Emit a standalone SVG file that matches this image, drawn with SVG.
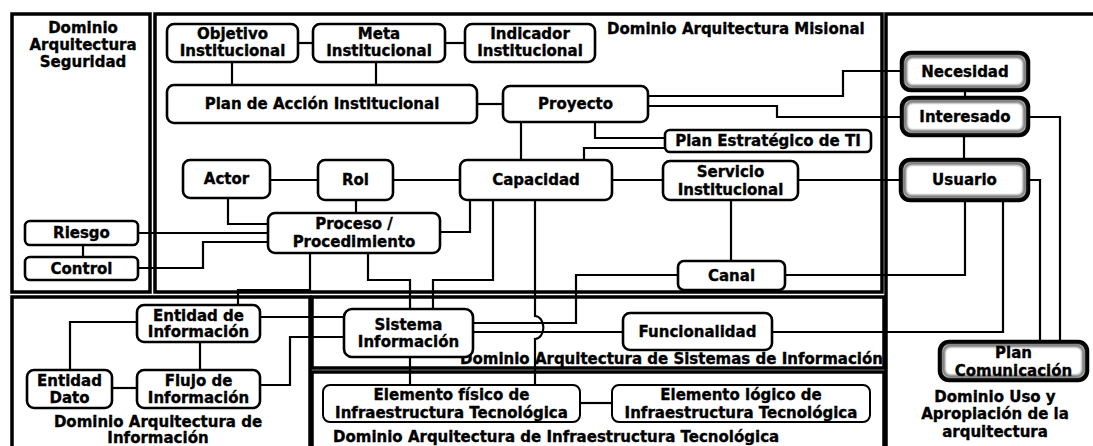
<svg xmlns="http://www.w3.org/2000/svg" width="1093" height="446" viewBox="0 0 1093 446">
<defs>
<filter id="blur" x="-10%" y="-20%" width="120%" height="140%"><feGaussianBlur stdDeviation="1.3"/></filter>
</defs>
<style>
.dom{fill:none;stroke:#000;stroke-width:3.5}
.n{fill:#fff;stroke:#000;stroke-width:2.6}
.n2{fill:#fff;stroke:#000;stroke-width:4.5}
.n2i{fill:none;stroke:#6a6a6a;stroke-width:3;filter:url(#blur)}
.c{fill:none;stroke:#000;stroke-width:2.2}
text{font-family:"DejaVu Sans","Liberation Sans",sans-serif;font-weight:bold;font-size:15px;fill:#000;stroke:#000;stroke-width:0.35;text-anchor:middle}
.st{text-anchor:start}
</style>
<rect width="1093" height="446" fill="#fff"/>
<g id="domains">
<rect class="dom" x="12" y="14" width="138" height="278"/>
<rect class="dom" x="155" y="14" width="727" height="278"/>
<path class="dom" d="M886,460 V14 H1100"/>
<rect class="dom" x="12" y="297" width="298" height="200"/>
<rect class="dom" x="312" y="297" width="572" height="71"/>
<rect class="dom" x="312" y="372" width="572" height="100"/>
</g>
<g id="domain-labels">
<text x="83" y="33">Dominio</text>
<text x="83" y="50">Arquitectura</text>
<text x="83" y="67">Seguridad</text>
<text class="st" x="607" y="34">Dominio Arquitectura Misional</text>
<text class="st" x="460" y="364">Dominio Arquitectura de Sistemas de Información</text>
<text class="st" x="333" y="442">Dominio Arquitectura de Infraestructura Tecnológica</text>
<text x="158" y="427">Dominio Arquitectura de</text>
<text x="158" y="443">Información</text>
<text x="995" y="402">Dominio Uso y</text>
<text x="995" y="419">Apropiación de la</text>
<text x="995" y="437">arquitectura</text>
</g>
<g id="connectors">
<path class="c" d="M298,43 H313"/>
<path class="c" d="M445,43 H465"/>
<path class="c" d="M232,62 V85"/>
<path class="c" d="M376,62 V85"/>
<path class="c" d="M477,104 H503"/>
<path class="c" d="M648,96 H843 V71 H902"/>
<path class="c" d="M648,106 H777 V117 H902"/>
<path class="c" d="M595,122 V138 H665"/>
<path class="c" d="M521,122 V160"/>
<path class="c" d="M584,160 V148 H665"/>
<path class="c" d="M965,90 V98"/>
<path class="c" d="M964,135 V160"/>
<path class="c" d="M1028,117 H1060 V342"/>
<path class="c" d="M1028,180 H1040 V342"/>
<path class="c" d="M772,332 H1003 V200"/>
<path class="c" d="M798,180 H901"/>
<path class="c" d="M785,275 H965 V200"/>
<path class="c" d="M612,180 H663"/>
<path class="c" d="M731,200 V261"/>
<path class="c" d="M678,275 H576 V323 H473"/>
<path class="c" d="M473,332 H623"/>
<path class="c" d="M535,200 V316 A8,11 0 0 1 535,339 V385"/>
<path class="c" d="M470,200 V232 H440"/>
<path class="c" d="M493,200 V280 H433 V309"/>
<path class="c" d="M368,253 V280 H410 V309"/>
<path class="c" d="M310,253 V290 H238 V305"/>
<path class="c" d="M260,317 H344"/>
<path class="c" d="M260,385 H290 V337 H344"/>
<path class="c" d="M200,342 V370"/>
<path class="c" d="M137,322 H70 V370"/>
<path class="c" d="M112,388 H137"/>
<path class="c" d="M83,245 V257"/>
<path class="c" d="M138,233 H268"/>
<path class="c" d="M138,268 H203 V242 H268"/>
<path class="c" d="M228,198 V224 H268"/>
<path class="c" d="M270,180 H318"/>
<path class="c" d="M356,200 V213"/>
<path class="c" d="M393,180 H460"/>
<path class="c" d="M410,357 V385"/>
<path class="c" d="M580,403 H612"/>
</g>
<g id="objetivo"><rect class="n" x="167" y="24" width="131" height="38" rx="7"/><text x="232.5" y="39">Objetivo</text><text x="232.5" y="56">Institucional</text></g>
<g id="meta"><rect class="n" x="313" y="24" width="132" height="38" rx="7"/><text x="379" y="39">Meta</text><text x="379" y="56">Institucional</text></g>
<g id="indicador"><rect class="n" x="465" y="24" width="130" height="38" rx="7"/><text x="530" y="39">Indicador</text><text x="530" y="56">Institucional</text></g>
<g id="plan-accion"><rect class="n" x="167" y="85" width="310" height="38" rx="7"/><text x="322" y="109">Plan de Acción Institucional</text></g>
<g id="proyecto"><rect class="n" x="503" y="86" width="145" height="36" rx="7"/><text x="575.5" y="109">Proyecto</text></g>
<g id="plan-estrategico"><rect class="n" x="665" y="130" width="206" height="22" rx="5"/><text x="768" y="146">Plan Estratégico de TI</text></g>
<g id="necesidad"><rect class="n2" x="902" y="53" width="126" height="37" rx="9"/><rect class="n2i" x="905.5" y="56.5" width="119" height="30" rx="7"/><text x="965" y="77">Necesidad</text></g>
<g id="interesado"><rect class="n2" x="902" y="98" width="126" height="37" rx="9"/><rect class="n2i" x="905.5" y="101.5" width="119" height="30" rx="7"/><text x="965" y="122">Interesado</text></g>
<g id="usuario"><rect class="n2" x="901" y="160" width="127" height="40" rx="9"/><rect class="n2i" x="904.5" y="163.5" width="120" height="33" rx="7"/><text x="964.5" y="185">Usuario</text></g>
<g id="actor"><rect class="n" x="183" y="160" width="87" height="38" rx="7"/><text x="226.5" y="184">Actor</text></g>
<g id="rol"><rect class="n" x="318" y="160" width="75" height="40" rx="7"/><text x="355.5" y="185">Rol</text></g>
<g id="capacidad"><rect class="n" x="460" y="160" width="152" height="40" rx="7"/><text x="536" y="185">Capacidad</text></g>
<g id="servicio"><rect class="n" x="663" y="161" width="135" height="39" rx="7"/><text x="730.5" y="177">Servicio</text><text x="730.5" y="195">Institucional</text></g>
<g id="proceso"><rect class="n" x="268" y="213" width="172" height="40" rx="7"/><text x="354" y="229">Proceso /</text><text x="354" y="247">Procedimiento</text></g>
<g id="riesgo"><rect class="n" x="25" y="221" width="113" height="24" rx="5"/><text x="81.5" y="238">Riesgo</text></g>
<g id="control"><rect class="n" x="25" y="257" width="113" height="23" rx="5"/><text x="81.5" y="274">Control</text></g>
<g id="canal"><rect class="n" x="678" y="261" width="107" height="29" rx="6"/><text x="731.5" y="281">Canal</text></g>
<g id="entidad-informacion"><rect class="n" x="137" y="305" width="123" height="37" rx="7"/><text x="198.5" y="321">Entidad de</text><text x="198.5" y="337">Información</text></g>
<g id="entidad-dato"><rect class="n" x="27" y="370" width="85" height="38" rx="7"/><text x="69.5" y="386">Entidad</text><text x="69.5" y="403">Dato</text></g>
<g id="flujo"><rect class="n" x="137" y="370" width="123" height="38" rx="7"/><text x="198.5" y="386">Flujo de</text><text x="198.5" y="403">Información</text></g>
<g id="sistema"><rect class="n" x="344" y="309" width="129" height="48" rx="8"/><text x="408.5" y="330">Sistema</text><text x="408.5" y="347">Información</text></g>
<g id="funcionalidad"><rect class="n" x="623" y="313" width="149" height="37" rx="7"/><text x="697.5" y="337">Funcionalidad</text></g>
<g id="elemento-fisico"><rect class="n" x="323" y="385" width="257" height="37" rx="7" style="stroke-width:2"/><text x="451.5" y="400">Elemento físico de</text><text x="451.5" y="418">Infraestructura Tecnológica</text></g>
<g id="elemento-logico"><rect class="n" x="612" y="385" width="258" height="37" rx="7" style="stroke-width:2"/><text x="741" y="400">Elemento lógico de</text><text x="741" y="418">Infraestructura Tecnológica</text></g>
<g id="plan-comunicacion"><rect class="n2" x="940" y="342" width="147" height="38" rx="9"/><rect class="n2i" x="943.5" y="345.5" width="140" height="31" rx="7"/><text x="1013.5" y="358">Plan</text><text x="1013.5" y="376">Comunicación</text></g>
</svg>
